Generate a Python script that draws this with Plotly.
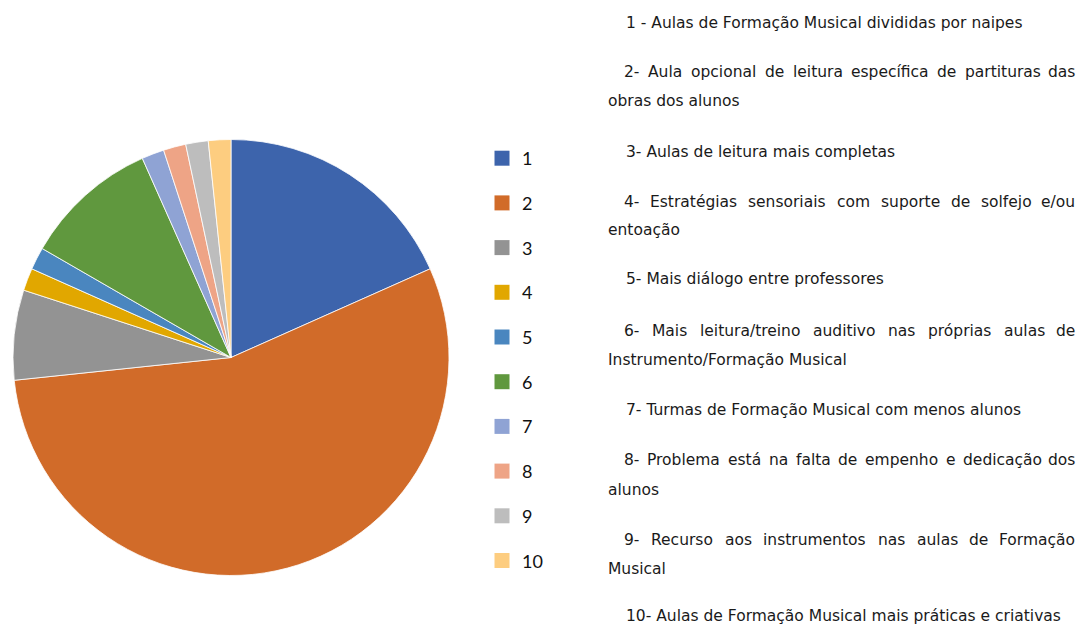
import plotly.graph_objects as go

W, H = 1080, 627

# ---- data ----
categories = ["1", "2", "3", "4", "5", "6", "7", "8", "9", "10"]
values = [11, 33, 4, 1, 1, 6, 1, 1, 1, 1]
colors = ["#3D64AC", "#D16B29", "#939393", "#E1A700", "#4A86BF",
          "#60983E", "#8FA3D4", "#EEA486", "#BDBDBD", "#FDCD80"]

# description paragraphs: (text line, y center px, x left px, x right px or None, justified?)
desc_lines = [
    ("1 - Aulas de Formação Musical divididas por naipes", 23, 624, None, False),
    ("2- Aula opcional de leitura específica de partituras das", 72, 624, 1077, True),
    ("obras dos alunos", 101, 606, None, False),
    ("3- Aulas de leitura mais completas", 152, 624, None, False),
    ("4- Estratégias sensoriais com suporte de solfejo e/ou", 202, 624, 1077, True),
    ("entoação", 230, 606, None, False),
    ("5- Mais diálogo entre professores", 279, 624, None, False),
    ("6- Mais leitura/treino auditivo nas próprias aulas de", 331, 624, 1077, True),
    ("Instrumento/Formação Musical", 360, 606, None, False),
    ("7- Turmas de Formação Musical com menos alunos", 410, 624, None, False),
    ("8- Problema está na falta de empenho e dedicação dos", 460, 624, 1077, True),
    ("alunos", 490, 606, None, False),
    ("9- Recurso aos instrumentos nas aulas de Formação", 540, 624, 1077, True),
    ("Musical", 569, 606, None, False),
    ("10- Aulas de Formação Musical mais práticas e criativas", 616, 624, None, False),
]

TEXT_FONT = "DejaVu Sans"
TEXT_SIZE = 15.5
TEXT_COLOR = "#1a1a1a"

# approximate DejaVu Sans advance widths (em)
CW = {' ': .318, 'a': .613, 'b': .635, 'c': .550, 'd': .635, 'e': .615, 'f': .352,
      'g': .635, 'h': .634, 'i': .278, 'j': .278, 'k': .579, 'l': .278, 'm': .974,
      'n': .634, 'o': .612, 'p': .635, 'q': .635, 'r': .411, 's': .521, 't': .392,
      'u': .634, 'v': .592, 'w': .818, 'x': .592, 'y': .592, 'z': .525, '-': .361,
      '/': .337, 'A': .684, 'E': .632, 'F': .575, 'I': .295, 'M': .862, 'P': .603,
      'R': .695, 'T': .611}
ACC = {'ç': 'c', 'ã': 'a', 'á': 'a', 'é': 'e', 'í': 'i', 'ó': 'o', 'â': 'a'}


def tw(s, size):
    return sum(CW.get(ACC.get(ch, ch), .636) for ch in s) * size


fig = go.Figure()

fig.add_trace(go.Pie(
    labels=categories, values=values, sort=False, direction="clockwise",
    rotation=0, textinfo="none", hoverinfo="label+value+percent",
    marker=dict(colors=colors, line=dict(color="rgba(255,255,255,0.8)", width=1)),
    domain=dict(x=[13 / W, 449 / W], y=[1 - 576 / H, 1 - 139 / H]),
    showlegend=False,
))

# legend entries
for cat, col in zip(categories, colors):
    fig.add_trace(go.Scatter(
        x=[None], y=[None], mode="markers", name=cat, legendgroup=cat,
        marker=dict(symbol="square", size=15, color=col),
    ))

annotations = []
for text, ypx, x0, x1, just in desc_lines:
    yp = 1 - ypx / H
    font = dict(family=TEXT_FONT, size=TEXT_SIZE, color=TEXT_COLOR)
    if not just:
        annotations.append(dict(text=text, x=x0 / W, y=yp, xref="paper", yref="paper",
                                xanchor="left", yanchor="middle", showarrow=False, font=font))
    else:
        words = text.split(" ")
        widths = [tw(w, TEXT_SIZE) for w in words]
        gap = (x1 - x0 - sum(widths)) / (len(words) - 1)
        pos = x0
        for i, (wd, wdw) in enumerate(zip(words, widths)):
            if i == len(words) - 1:
                annotations.append(dict(text=wd, x=x1 / W, y=yp, xref="paper", yref="paper",
                                        xanchor="right", yanchor="middle", showarrow=False, font=font))
            else:
                annotations.append(dict(text=wd, x=(pos + wdw / 2) / W, y=yp, xref="paper", yref="paper",
                                        xanchor="center", yanchor="middle", showarrow=False, font=font))
            pos += wdw + gap

fig.update_layout(
    width=W, height=H, margin=dict(l=0, r=0, t=0, b=0),
    paper_bgcolor="white", plot_bgcolor="white",
    xaxis=dict(visible=False), yaxis=dict(visible=False),
    legend=dict(x=482 / W, y=1 - 140 / H, xanchor="left", yanchor="top",
                font=dict(family="Lato", size=18, color="#111111"),
                tracegroupgap=18.3, itemclick=False, itemdoubleclick=False),
    annotations=annotations,
)

fig.write_html("out.html", config={"displayModeBar": False},
               post_script="document.body.style.margin='0';document.body.style.overflow='hidden';")
